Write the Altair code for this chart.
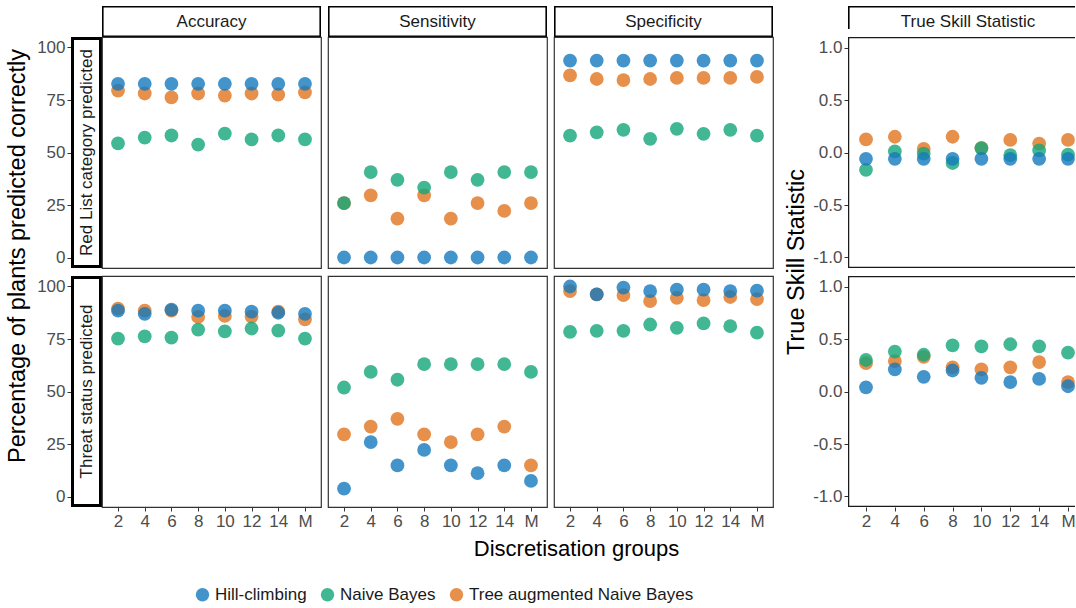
import altair as alt
import pandas as pd

FONT = "Liberation Sans"

groups = ["2", "4", "6", "8", "10", "12", "14", "M"]
models = ["Hill-climbing", "Naive Bayes", "Tree augmented Naive Bayes"]
colours = ["#1479BD", "#12A678", "#E0741F"]
metrics = ["Accuracy", "Sensitivity", "Specificity"]
targets = ["Red List category predicted", "Threat status predicted"]

# --- Red List category predicted (percent) ---
rl_acc_hc = [82.7, 82.7, 82.7, 82.7, 82.7, 82.7, 82.7, 82.7]
rl_acc_nb = [54.3, 57.1, 58.1, 53.8, 59.0, 56.2, 58.1, 56.2]
rl_acc_tan = [79.5, 78.1, 76.2, 78.1, 77.1, 78.1, 77.6, 78.6]

rl_sen_hc = [0.0, 0.0, 0.0, 0.0, 0.0, 0.0, 0.0, 0.0]
rl_sen_nb = [25.9, 40.7, 37.0, 33.3, 40.7, 37.0, 40.7, 40.7]
rl_sen_tan = [25.9, 29.6, 18.5, 29.6, 18.5, 25.9, 22.2, 25.9]

rl_spe_hc = [93.8, 93.8, 93.8, 93.8, 93.8, 93.8, 93.8, 93.8]
rl_spe_nb = [58.0, 59.6, 60.8, 56.5, 61.3, 58.9, 60.8, 58.0]
rl_spe_tan = [86.7, 85.0, 84.5, 85.0, 85.5, 85.5, 85.5, 86.0]

rl_tss_hc = [-0.06, -0.06, -0.06, -0.06, -0.06, -0.06, -0.06, -0.06]
rl_tss_nb = [-0.165, 0.01, -0.01, -0.10, 0.04, -0.025, 0.02, -0.02]
rl_tss_tan = [0.125, 0.15, 0.035, 0.15, 0.045, 0.12, 0.085, 0.12]

# --- Threat status predicted (percent) ---
ts_acc_hc = [88.5, 87.0, 89.0, 88.5, 88.5, 88.0, 87.5, 87.0]
ts_acc_nb = [75.2, 76.3, 75.7, 79.5, 78.6, 80.0, 79.0, 75.2]
ts_acc_tan = [89.5, 88.5, 88.5, 85.5, 86.0, 85.7, 88.0, 84.3]

ts_sen_hc = [3.7, 25.9, 14.8, 22.2, 14.8, 11.1, 14.8, 7.4]
ts_sen_nb = [51.9, 59.3, 55.6, 63.0, 63.0, 63.0, 63.0, 59.3]
ts_sen_tan = [29.6, 33.3, 37.0, 29.6, 25.9, 29.6, 33.3, 14.8]

ts_spe_hc = [100.0, 96.2, 99.5, 97.8, 98.5, 98.5, 97.8, 98.0]
ts_spe_nb = [78.4, 78.9, 78.9, 81.9, 80.3, 82.4, 81.1, 78.0]
ts_spe_tan = [97.8, 96.2, 95.9, 93.0, 94.6, 93.5, 95.0, 94.0]

ts_tss_hc = [0.04, 0.21, 0.14, 0.20, 0.13, 0.09, 0.12, 0.05]
ts_tss_nb = [0.30, 0.38, 0.35, 0.44, 0.43, 0.45, 0.43, 0.37]
ts_tss_tan = [0.27, 0.29, 0.33, 0.23, 0.21, 0.23, 0.28, 0.09]

series = {
    (targets[0], "Accuracy"): (rl_acc_hc, rl_acc_nb, rl_acc_tan),
    (targets[0], "Sensitivity"): (rl_sen_hc, rl_sen_nb, rl_sen_tan),
    (targets[0], "Specificity"): (rl_spe_hc, rl_spe_nb, rl_spe_tan),
    (targets[0], "TSS"): (rl_tss_hc, rl_tss_nb, rl_tss_tan),
    (targets[1], "Accuracy"): (ts_acc_hc, ts_acc_nb, ts_acc_tan),
    (targets[1], "Sensitivity"): (ts_sen_hc, ts_sen_nb, ts_sen_tan),
    (targets[1], "Specificity"): (ts_spe_hc, ts_spe_nb, ts_spe_tan),
    (targets[1], "TSS"): (ts_tss_hc, ts_tss_nb, ts_tss_tan),
}

records = []
for (target, metric), trio in series.items():
    # tree augmented first, hill-climbing last so it is drawn on top
    for mi in (2, 1, 0):
        for g, v in zip(groups, trio[mi]):
            records.append({"target": target, "metric": metric,
                            "model": models[mi], "group": g, "value": v})
df = pd.DataFrame(records)
one = pd.DataFrame({"k": [0]})

PW, PH = 219, 231      # panel size
SH = 31                # drawn strip height
SCELL = 23             # strip cell height (strip box runs into the row gap)
TW = 227               # TSS panel width
GREY = "#4D4D4D"
TICK = 17              # tick / strip / legend text size

colour = alt.Color("model:N", scale=alt.Scale(domain=models, range=colours), title=None)
no_stroke = alt.ViewBackground(strokeOpacity=0)


def x_axis(show, title_spec=None):
    if not show:
        return None
    kw = dict(labelAngle=0, labelFontSize=TICK, labelColor=GREY, tickSize=4,
              tickColor="#333333", labelPadding=2, domain=False, title=None)
    if title_spec:
        kw.update(title_spec)
    return alt.Axis(**kw)


def panel(target, metric, show_x, title_spec=None):
    d = df[(df.target == target) & (df.metric == metric)]
    return alt.Chart(d).mark_circle(size=190, opacity=0.8).encode(
        x=alt.X("group:N", sort=groups,
                scale=alt.Scale(type="point", domain=groups, padding=0.6),
                axis=x_axis(show_x, title_spec)),
        y=alt.Y("value:Q", scale=alt.Scale(domain=[-5, 105], nice=False, zero=False), axis=None),
        color=colour,
    ).properties(width=PW, height=PH)


def tss_panel(target, show_x):
    d = df[(df.target == target) & (df.metric == "TSS")]
    frame = alt.Chart(one).mark_rect(fillOpacity=0, stroke="#1A1A1A", strokeWidth=1.3, clip=True).encode(
        x=alt.value(0.6), x2=alt.value(TW + 6), y=alt.value(0.6), y2=alt.value(PH - 0.6))
    pts = alt.Chart(d).mark_circle(size=190, opacity=0.8, clip=True).encode(
        x=alt.X("group:N", sort=groups,
                scale=alt.Scale(type="point", domain=groups, range=[18, 220], padding=0),
                axis=x_axis(show_x)),
        y=alt.Y("value:Q", scale=alt.Scale(domain=[-1.1, 1.1], nice=False, zero=False),
                axis=alt.Axis(values=[-1, -0.5, 0, 0.5, 1],
                              labelExpr="replace(format(datum.value, '.1f'), '\u2212', '-')",
                              labelFontSize=TICK, labelColor=GREY, tickSize=4, tickColor="#333333",
                              labelPadding=2, domain=False, grid=False, title=None)),
        color=colour,
    )
    return alt.layer(frame, pts).properties(width=TW, height=PH, view=no_stroke)


def strip(label, w, open_right=False):
    base = alt.Chart(pd.DataFrame({"t": [label]}))
    if open_right:
        box = base.mark_rect(fill="white", stroke="black", strokeWidth=1.6, clip=True).encode(
            x=alt.value(0.8), x2=alt.value(w + 6), y=alt.value(0.8), y2=alt.value(SH - 0.8))
    else:
        box = base.mark_rect(fill="white", stroke="black", strokeWidth=1.6).encode(
            x=alt.value(0.8), x2=alt.value(w - 0.8), y=alt.value(0.8), y2=alt.value(SH - 0.8))
    txt = base.mark_text(fontSize=TICK, font=FONT, color="#1A1A1A", baseline="middle").encode(
        x=alt.value(w / 2 if not open_right else 120), y=alt.value(SH / 2 + 0.5), text="t:N")
    return alt.layer(box, txt).properties(width=w, height=SCELL, view=no_stroke)


def row_strip(label):
    base = alt.Chart(pd.DataFrame({"t": [label], "v": [50]}))
    box = base.mark_rect(fill="white", stroke="black", strokeWidth=3).encode(
        x=alt.value(1.5), x2=alt.value(29.5), y=alt.value(1.5), y2=alt.value(PH - 1.5))
    txt = base.mark_text(angle=270, fontSize=TICK, font=FONT, color="#1A1A1A", baseline="middle").encode(
        x=alt.value(15.5),
        y=alt.Y("v:Q", scale=alt.Scale(domain=[-5, 105], nice=False, zero=False),
                axis=alt.Axis(values=[0, 25, 50, 75, 100], labelFontSize=TICK, labelColor=GREY,
                              tickSize=4, tickColor="#333333", labelPadding=2,
                              domain=False, grid=False, title=None)),
        text="t:N")
    return alt.layer(box, txt).properties(width=24, height=PH, view=no_stroke)


def blank(w, h):
    return alt.Chart(one).mark_point(opacity=0, size=1).encode(
        x=alt.value(w / 2), y=alt.value(h / 2)).properties(width=w, height=h, view=no_stroke)


def side_title(text, w, h, x, y, size):
    return alt.Chart(pd.DataFrame({"t": [text]})).mark_text(
        angle=270, fontSize=size, font=FONT, color="black", baseline="middle").encode(
        x=alt.value(x), y=alt.value(y), text="t:N").properties(width=w, height=h, view=no_stroke)


xtitle = dict(title="Discretisation groups", titleFontSize=22, titleColor="black",
              titleFontWeight="normal", titleFont=FONT, titleX=248, titleY=41,
              titleAlign="center", titleBaseline="middle")

cells = [
    side_title("Percentage of plants predicted correctly", 64, SCELL, 18, 250, 23.5),
    blank(24, SCELL),
    strip("Accuracy", PW), strip("Sensitivity", PW), strip("Specificity", PW),
    side_title("True Skill Statistic", 61, SCELL, 17, 256, 23.5),
    strip("True Skill Statistic", TW, open_right=True),

    blank(64, PH), row_strip(targets[0]),
    panel(targets[0], "Accuracy", False), panel(targets[0], "Sensitivity", False),
    panel(targets[0], "Specificity", False), blank(61, PH), tss_panel(targets[0], False),

    blank(64, PH), row_strip(targets[1]),
    panel(targets[1], "Accuracy", True), panel(targets[1], "Sensitivity", True, xtitle),
    panel(targets[1], "Specificity", True), blank(61, PH), tss_panel(targets[1], True),
]

chart = alt.concat(
    *cells, columns=7, spacing={"row": 8, "column": 7}, bounds="flush"
).properties(
    padding={"left": 0, "top": 6, "right": 0, "bottom": 0}
).configure(
    font=FONT
).configure_view(
    stroke="#333333", strokeWidth=1.2
).configure_legend(
    orient="none", legendX=194, legendY=580, direction="horizontal",
    labelFontSize=TICK, labelColor="#1A1A1A", labelFont=FONT, labelLimit=400,
    symbolType="circle", symbolSize=180, columnPadding=12, labelOffset=4, padding=0
)

chart.save("out.html", embed_options={"renderer": "svg", "actions": False})
